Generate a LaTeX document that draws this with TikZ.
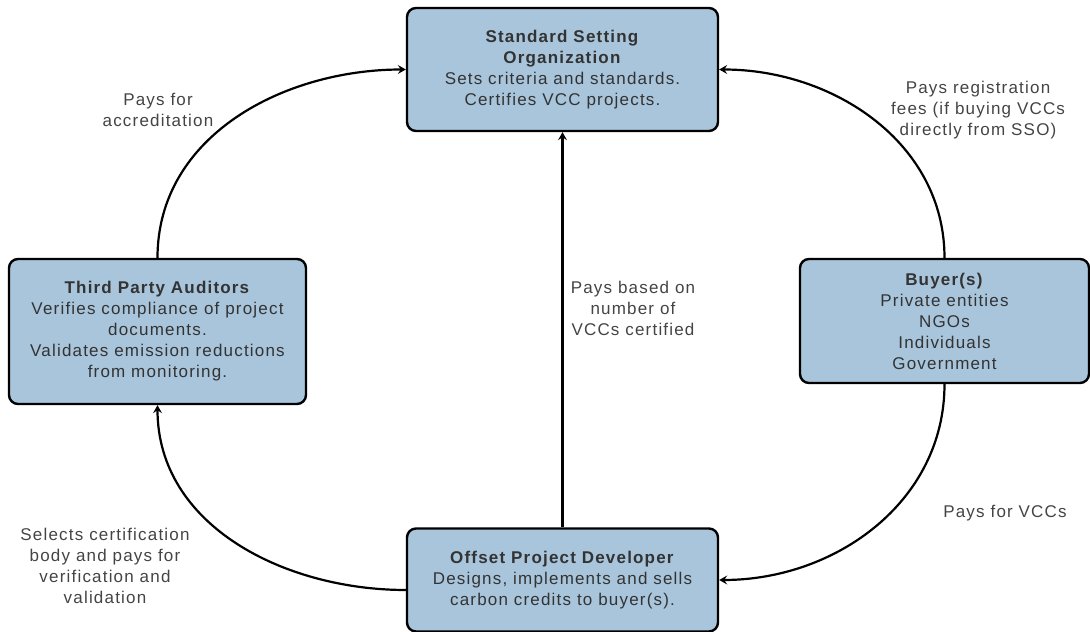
\documentclass[tikz,border=0pt]{standalone}
\usepackage{fontspec}
\setmainfont{Liberation Sans}[LetterSpace=7]
\usetikzlibrary{arrows.meta}

\definecolor{boxblue}{HTML}{A8C5DB}
\definecolor{boxtext}{HTML}{333333}
\definecolor{labeltext}{HTML}{444444}

\tikzset{
  party/.style={draw=black, fill=boxblue, rounded corners=9pt, line width=2.4pt,
    align=center, text=boxtext, font=\fontsize{17}{21}\selectfont, inner sep=0pt},
  flow/.style={line width=2.2pt, -{Stealth[length=8pt,width=9pt,inset=3pt]}},
  note/.style={align=center, text=labeltext, font=\fontsize{17}{21}\selectfont, inner sep=0pt}
}

\begin{document}
\begin{tikzpicture}[x=1pt,y=1pt]
\useasboundingbox (0,0) rectangle (1090,632);

% the four parties
\node[party, minimum width=311, minimum height=123] (sso) at (562.5,562.5)
  {\textbf{Standard Setting}\\\textbf{Organization}\\Sets criteria and standards.\\Certifies VCC projects.};
\node[party, minimum width=297, minimum height=145] (tpa) at (157.5,300.5)
  {\textbf{Third Party Auditors}\\Verifies compliance of project\\documents.\\Validates emission reductions\\from monitoring.};
\node[party, minimum width=289, minimum height=124] (buyer) at (944.5,311)
  {\textbf{Buyer(s)}\\Private entities\\NGOs\\Individuals\\Government};
\node[party, minimum width=311, minimum height=103] (opd) at (562.5,52)
  {\textbf{Offset Project Developer}\\Designs, implements and sells\\carbon credits to buyer(s).};

% money flows
\draw[flow] (tpa.north) to[out=90,in=180] (sso.west);
\draw[flow] (buyer.north) to[out=90,in=0] (sso.east);
\draw[flow] (opd.north) -- (sso.south);
\draw[flow] (buyer.south) to[out=-90,in=0] (opd.east);
\draw[flow] ([yshift=-10pt]opd.west) to[out=180,in=-90] (tpa.south);

% labels
\node[note] (l1) at (158,522) {Pays for\\accreditation};
\node[note] (l2) at (978,522) {Pays registration\\fees (if buying VCCs\\directly from SSO)};
\node[note] (l3) at (633,324) {Pays based on\\number of\\VCCs certified};
\node[note] (l4) at (1005,119) {Pays for VCCs};
\node[note] (l5) at (105,66) {Selects certification\\body and pays for\\verification and\\validation};
\end{tikzpicture}
\end{document}
